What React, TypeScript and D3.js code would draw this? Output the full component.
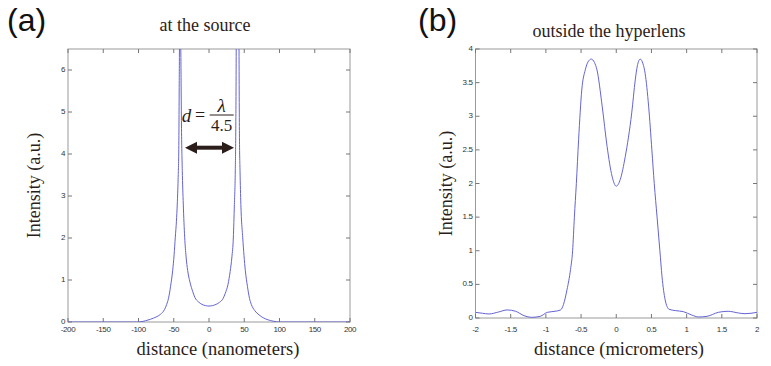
import React from "react";
import * as d3 from "d3";

const WIDTH = 771;
const HEIGHT = 366;

// (a) intensity at the source vs distance in nanometers
const sourceX = [
  -200, -150, -100, -90, -83, -75, -69, -63, -60, -57.5, -54.5, -51.5, -49.5,
  -47.8, -46.2, -45, -43.8, -42.8, -42.3, -41.8, -41.2, -40.6, -40, -39, -37.9,
  -36.5, -34.5, -32.5, -30.3, -27, -23, -19.9, -15, -10, -5, 0, 5, 10, 15, 20,
  23, 27, 30, 32.5, 34.5, 36, 37.3, 38, 38.6, 39.6, 40.6, 41.6, 42.6, 43.2, 44,
  45.2, 47.8, 51.5, 54.5, 57.5, 60, 65, 71, 77, 84, 91, 100, 150, 200,
];
const sourceY = [
  0, 0, 0, 0.03, 0.065, 0.12, 0.18, 0.3, 0.42, 0.56, 0.85, 1.23, 1.6, 2.02,
  2.4, 2.81, 3.4, 4.2, 5.5, 7.2, 14, 7.2, 6.5, 4.6, 3.61, 2.81, 2.02, 1.55,
  1.23, 0.95, 0.72, 0.58, 0.48, 0.42, 0.39, 0.38, 0.39, 0.42, 0.47, 0.56, 0.68,
  0.9, 1.2, 1.55, 2.0, 2.8, 3.6, 4.6, 6.5, 14, 14, 14, 6.5, 4.4, 3.6, 2.8, 2.02,
  1.23, 0.85, 0.56, 0.42, 0.27, 0.17, 0.1, 0.05, 0.02, 0, 0, 0,
];
const sourceXTicks = [-200, -150, -100, -50, 0, 50, 100, 150, 200];
const sourceYTicks = [0, 1, 2, 3, 4, 5, 6];

// (b) intensity outside the hyperlens vs distance in micrometers
const lensX = [
  -2, -1.9, -1.81, -1.67, -1.55, -1.43, -1.31, -1.2, -1.08, -0.98, -0.87,
  -0.79, -0.75, -0.7, -0.65, -0.62, -0.595, -0.567, -0.535, -0.49, -0.44, -0.4,
  -0.355, -0.31, -0.274, -0.2, -0.13, -0.06, 0, 0.057, 0.128, 0.22, 0.27, 0.3,
  0.34, 0.38, 0.41, 0.46, 0.506, 0.54, 0.58, 0.62, 0.65, 0.695, 0.75, 0.84,
  0.955, 1.07, 1.17, 1.29, 1.45, 1.59, 1.74, 1.83, 2,
];
const lensY = [
  0.084, 0.07, 0.06, 0.09, 0.12, 0.1, 0.035, 0.01, 0.025, 0.084, 0.1, 0.12,
  0.2, 0.42, 0.72, 1.0, 1.5, 2.0, 2.65, 3.39, 3.69, 3.81, 3.85, 3.8, 3.69,
  3.15, 2.55, 2.11, 1.96, 2.06, 2.4, 3.05, 3.54, 3.75, 3.85, 3.78, 3.64, 3.15,
  2.5, 2.0, 1.5, 1.0, 0.62, 0.27, 0.13, 0.11, 0.094, 0.045, 0.015, 0.025,
  0.084, 0.1, 0.074, 0.064, 0.084,
];
const lensXTicks = [-2, -1.5, -1, -0.5, 0, 0.5, 1, 1.5, 2];
const lensYTicks = [0, 0.5, 1, 1.5, 2, 2.5, 3, 3.5, 4];

const serif = "'Liberation Serif', 'Times New Roman', serif";
const sans = "'Liberation Sans', Arial, sans-serif";
const ink = "#2b1d1a";
const lineColor = "#6464d2";

type PanelProps = {
  id: string;
  tag: string;
  tagX: number;
  title: string;
  titleX: number;
  titleY: number;
  xLabel: string;
  xLabelX: number;
  yLabelX: number;
  xs: number[];
  ys: number[];
  xDomain: [number, number];
  yDomain: [number, number];
  xTicks: number[];
  yTicks: number[];
  box: { left: number; right: number; top: number; bottom: number };
  children?: (x: d3.ScaleLinear<number, number>, y: d3.ScaleLinear<number, number>) => React.ReactNode;
};

const Panel = (p: PanelProps) => {
  const { left, right, top, bottom } = p.box;
  const x = d3.scaleLinear().domain(p.xDomain).range([left, right]);
  const y = d3.scaleLinear().domain(p.yDomain).range([bottom, top]);
  const path = d3
    .line<number>()
    .x((_, i) => x(p.xs[i]))
    .y((d) => y(d))
    .curve(d3.curveMonotoneX)(p.ys);
  const tick = 4;

  return (
    <g>
      <defs>
        <clipPath id={p.id}>
          <rect x={left} y={top} width={right - left} height={bottom - top} />
        </clipPath>
      </defs>
      <text x={p.tagX} y={31} fontFamily={sans} fontSize={32} fill="#111">
        {p.tag}
      </text>
      <text x={p.titleX} y={p.titleY} textAnchor="middle" fontFamily={serif} fontSize={18} fill={ink}>
        {p.title}
      </text>

      <rect x={left} y={top} width={right - left} height={bottom - top} fill="#fff" stroke="#9a9a9a" />
      {p.xTicks.map((t) => (
        <g key={"x" + t}>
          <line x1={x(t)} x2={x(t)} y1={bottom} y2={bottom - tick} stroke="#777" />
          <line x1={x(t)} x2={x(t)} y1={top} y2={top + tick} stroke="#777" />
          <text x={x(t)} y={332} textAnchor="middle" fontFamily={sans} fontSize={8} letterSpacing={-0.4} fill="#333">
            {String(t)}
          </text>
        </g>
      ))}
      {p.yTicks.map((t) => (
        <g key={"y" + t}>
          <line x1={left} x2={left + tick} y1={y(t)} y2={y(t)} stroke="#777" />
          <line x1={right} x2={right - tick} y1={y(t)} y2={y(t)} stroke="#777" />
          <text x={left - 3} y={y(t) + 2} textAnchor="end" fontFamily={sans} fontSize={8} letterSpacing={-0.4} fill="#333">
            {String(t)}
          </text>
        </g>
      ))}

      <path d={path ?? ""} fill="none" stroke={lineColor} strokeWidth={1} clipPath={`url(#${p.id})`} />
      {p.children && p.children(x, y)}

      <text
        transform={`translate(${p.yLabelX},${(top + bottom) / 2}) rotate(-90)`}
        textAnchor="middle"
        fontFamily={serif}
        fontSize={18}
        fill={ink}
      >
        Intensity (a.u.)
      </text>
      <text x={p.xLabelX} y={355} textAnchor="middle" fontFamily={serif} fontSize={18.5} fill={ink}>
        {p.xLabel}
      </text>
    </g>
  );
};

const Annotation = ({ x, y }: { x: d3.ScaleLinear<number, number>; y: d3.ScaleLinear<number, number> }) => {
  const x0 = x(-34);
  const x1 = x(35.5);
  const ay = y(4.15);
  const head = 12;
  const half = 6;
  const fracX = x(18);
  return (
    <g fill={ink}>
      <text x={x(-38.5)} y={122} fontFamily={serif} fontSize={19} fontStyle="italic">
        d
      </text>
      <text x={x(-12.5)} y={121} textAnchor="middle" fontFamily={serif} fontSize={18}>
        =
      </text>
      <text x={fracX} y={112} textAnchor="middle" fontFamily={serif} fontSize={19} fontStyle="italic">
        λ
      </text>
      <line x1={fracX - 12} x2={fracX + 12} y1={115} y2={115} stroke={ink} strokeWidth={1} />
      <text x={fracX} y={131} textAnchor="middle" fontFamily={serif} fontSize={17}>
        4.5
      </text>
      <line x1={x0 + head - 1} x2={x1 - head + 1} y1={ay} y2={ay} stroke={ink} strokeWidth={4} />
      <path d={`M${x0},${ay}L${x0 + head},${ay - half}L${x0 + head},${ay + half}Z`} />
      <path d={`M${x1},${ay}L${x1 - head},${ay - half}L${x1 - head},${ay + half}Z`} />
    </g>
  );
};

const App = () => (
  <svg
    width={WIDTH}
    height={HEIGHT}
    viewBox={`0 0 ${WIDTH} ${HEIGHT}`}
    style={{ position: "absolute", left: 0, top: 0, background: "#fff" }}
  >
    <rect width={WIDTH} height={HEIGHT} fill="#fff" />
    <Panel
      id="clipA"
      tag="(a)"
      tagX={7}
      title="at the source"
      titleX={205}
      titleY={31}
      xLabel="distance (nanometers)"
      xLabelX={218}
      yLabelX={40}
      xs={sourceX}
      ys={sourceY}
      xDomain={[-200, 200]}
      yDomain={[0, 6.5]}
      xTicks={sourceXTicks}
      yTicks={sourceYTicks}
      box={{ left: 68, right: 350, top: 49, bottom: 322 }}
    >
      {(x, y) => <Annotation x={x} y={y} />}
    </Panel>
    <Panel
      id="clipB"
      tag="(b)"
      tagX={418}
      title="outside the hyperlens"
      titleX={609}
      titleY={37}
      xLabel="distance (micrometers)"
      xLabelX={619}
      yLabelX={452}
      xs={lensX}
      ys={lensY}
      xDomain={[-2, 2]}
      yDomain={[0, 4]}
      xTicks={lensXTicks}
      yTicks={lensYTicks}
      box={{ left: 475.5, right: 757, top: 49, bottom: 318 }}
    />
  </svg>
);

export default App;
